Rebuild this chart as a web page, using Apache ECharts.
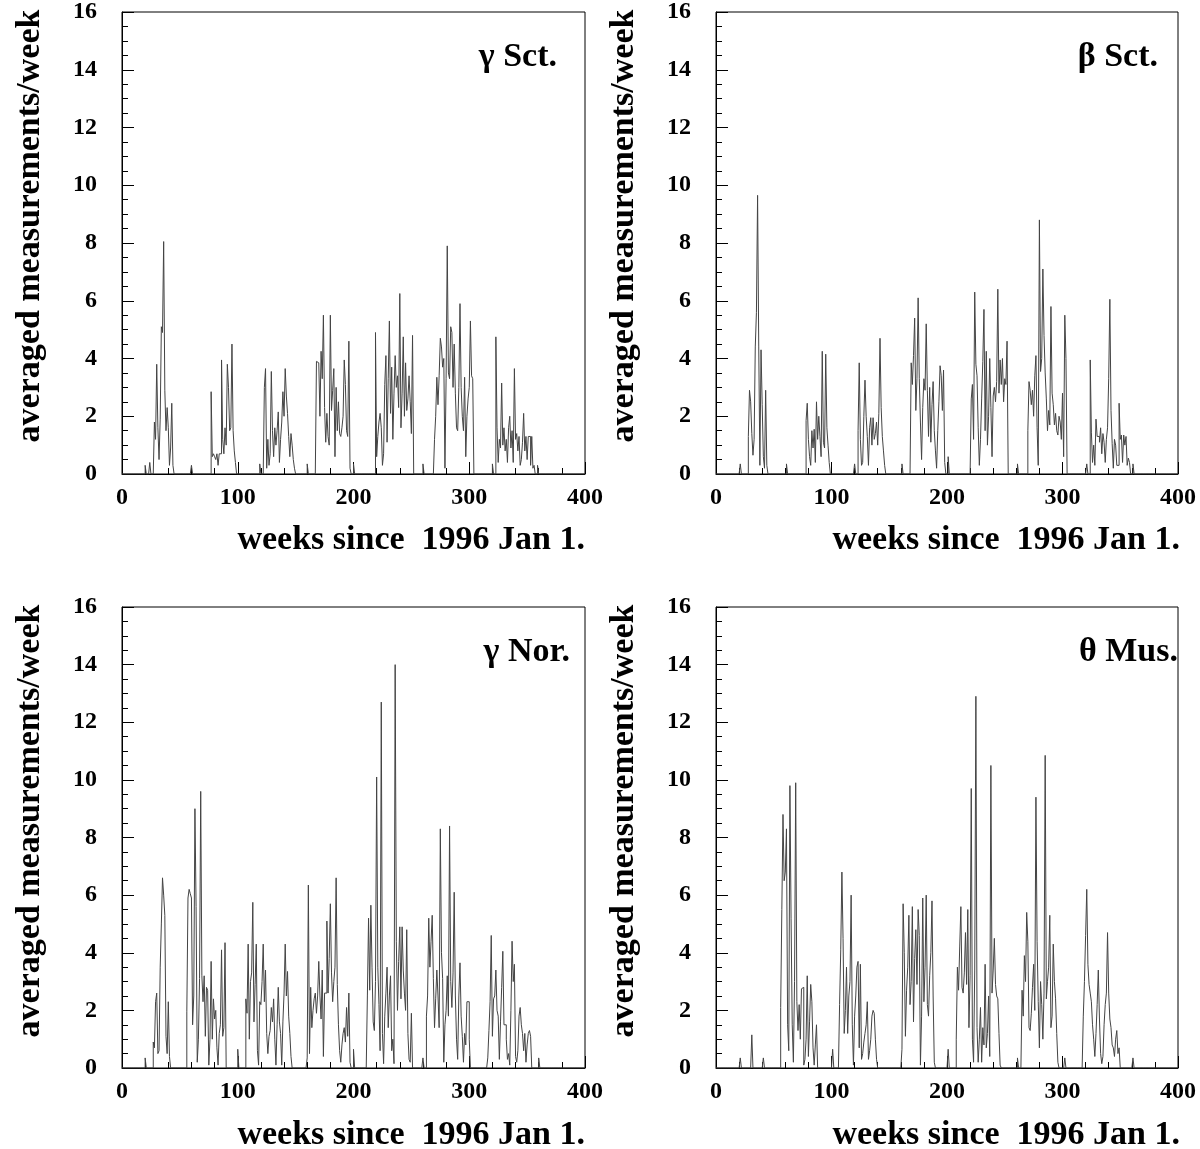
<!DOCTYPE html>
<html><head><meta charset="utf-8">
<script src="https://cdn.jsdelivr.net/npm/echarts/dist/echarts.min.js"></script>
<style>html,body{margin:0;padding:0;background:#fff}#c{width:1200px;height:1149px}</style>
</head><body><div id="c"></div>
<script>
// ---- data (weeks since 1996 Jan 1 -> averaged measurements/week); bins not listed are 0 ----
const weekRange = [0, 400];
const countRange = [0, 16];
const panelLabels = ['γ Sct.', 'β Sct.', 'γ Nor.', 'θ Mus.'];
const xTitle = 'weeks since  1996 Jan 1.';
const yTitle = 'averaged measurements/week';

const gammaSct = [[20,0.3],[24,0.4],
[28,1.8],[29,1.2],[30,3.8],[31,1.6],[32,0.5],[33,1.9],[34,5.1],[35,4.9],[36,8.05],[37,2.9],[38,1.5],[39,2.3],[40,1.6],[41,0.3],[42,0.9],[43,2.45],[44,0.3],
[60,0.3],
[77,2.85],[78,0.6],[79,0.7],[80,0.6],[81,0.5],[82,0.7],[83,0.3],[84,0.7],[85,0.7],[86,3.95],[87,1.2],[88,0.7],[89,1.6],[90,1.0],[91,3.8],[92,3.0],[93,1.5],[94,1.6],[95,4.5],[96,1.5],[97,0.8],[98,0.4],
[119,0.35],
[123,3.0],[124,3.65],[125,0.2],[126,1.2],[127,0.3],[128,0.7],[129,3.55],[130,1.5],[131,0.6],[132,1.6],[133,1.0],[134,1.5],[135,2.15],[136,0.4],[137,1.2],[138,1.8],[139,2.85],[140,2.0],[141,3.65],[142,2.7],[143,2.1],[144,1.3],[145,0.6],[146,1.4],[147,1.0],[148,0.5],[149,0.2],
[160,0.35],
[168,3.9],[169,3.85],[170,3.8],[171,2.0],[172,4.25],[173,3.3],[174,5.5],[175,2.3],[176,1.1],[177,2.1],[178,1.3],[179,1.0],[180,5.5],[181,2.2],[182,2.9],[183,3.65],[184,0.6],[185,3.0],[186,1.5],[187,2.5],[188,1.4],[189,1.3],[190,1.6],[191,2.0],[192,3.95],[193,3.1],[194,1.5],[195,1.3],[196,4.6],[197,0.2],
[200,0.35],
[219,4.9],[220,0.6],[221,1.3],[222,1.8],[223,2.1],[224,1.6],[225,0.3],[226,0.7],[227,3.1],[228,4.1],[229,1.1],[230,3.3],[231,5.3],[232,2.1],[233,3.7],[234,1.2],[235,2.8],[236,4.1],[237,3.0],[238,3.4],[239,2.3],[240,6.25],[241,1.6],[242,2.8],[243,4.75],[244,2.0],[245,3.85],[246,2.2],[247,2.6],[248,3.4],[249,2.5],[250,1.4],[251,4.8],
[260,0.35],
[270,1.2],[271,2.0],[272,3.35],[273,2.4],[274,3.4],[275,4.7],[276,4.4],[277,3.7],[278,4.0],[279,0.2],[280,3.3],[281,7.9],[282,3.5],[283,3.3],[284,5.1],[285,4.9],[286,3.0],[287,4.5],[288,2.8],[289,1.6],[290,1.5],[291,3.0],[292,5.9],[293,3.0],[294,2.0],[295,1.5],[296,3.35],[297,0.6],[298,2.0],[299,2.6],[300,3.0],[301,5.3],[302,3.4],[303,3.3],
[320,0.35],
[323,4.75],[324,1.6],[325,0.4],[326,1.2],[327,0.9],[328,3.15],[329,1.0],[330,1.6],[331,0.8],[332,1.2],[333,0.4],[334,1.6],[335,2.0],[336,0.9],[337,1.5],[338,0.4],[339,3.65],[340,1.2],[341,1.4],[342,0.8],[343,1.3],[344,0.3],[345,0.5],[346,1.1],[347,2.1],[348,0.8],[349,1.3],[350,0.5],[351,1.3],[352,1.3],[353,0.3],[354,1.3],[355,0.2],[356,0.3],[359,0.3]];

const betaSct = [[21,0.35],
[28,1.3],[29,2.9],[30,2.5],[31,1.4],[32,0.65],[33,1.2],[34,4.4],[35,5.6],[36,9.65],[37,4.4],[38,0.3],[39,4.3],[40,2.4],[41,0.6],[42,0.2],[43,2.9],[44,0.3],
[61,0.35],
[78,1.85],[79,2.45],[80,1.2],[81,0.6],[82,0.3],[83,1.5],[84,0.9],[85,1.55],[86,0.4],[87,2.5],[88,1.2],[89,2.0],[90,1.3],[91,0.6],[92,4.25],[93,1.1],[94,0.9],[95,4.15],[96,1.6],[97,1.0],[98,0.4],
[120,0.35],
[123,1.5],[124,3.85],[125,1.2],[126,0.3],[127,0.4],[128,2.0],[129,3.25],[130,2.0],[131,1.3],[132,0.3],[133,1.6],[134,1.95],[135,1.0],[136,1.95],[137,1.2],[138,1.4],[139,1.8],[140,1.0],[141,2.1],[142,4.7],[143,2.3],[144,1.3],[145,0.8],[146,0.3],
[161,0.35],
[169,3.85],[170,3.1],[171,4.1],[172,5.4],[173,2.2],[174,3.3],[175,6.1],[176,3.3],[177,1.8],[178,0.5],[179,2.3],[180,3.3],[181,2.9],[182,5.2],[183,2.9],[184,1.3],[185,3.0],[186,1.1],[187,2.4],[188,3.2],[189,1.5],[190,0.8],[191,0.2],[192,1.5],[193,2.5],[194,3.75],[195,3.4],[196,2.2],[197,3.6],[198,0.4],
[201,0.6],
[221,2.6],[222,3.1],[223,1.2],[224,6.3],[225,3.8],[226,3.4],[227,1.6],[228,0.3],[229,1.2],[230,2.6],[231,3.9],[232,5.7],[233,1.5],[234,4.25],[235,1.0],[236,2.0],[237,4.0],[238,2.3],[239,0.6],[240,2.7],[241,3.0],[242,2.5],[243,3.2],[244,6.4],[245,2.8],[246,3.95],[247,3.1],[248,4.0],[249,2.5],[250,3.3],[251,3.1],[252,4.6],
[261,0.35],
[270,1.5],[271,3.2],[272,2.9],[273,2.4],[274,2.9],[275,2.0],[276,3.4],[277,4.1],[278,1.6],[279,0.3],[280,8.8],[281,3.55],[282,4.0],[283,7.1],[284,4.8],[285,3.5],[286,2.6],[287,1.5],[288,2.2],[289,1.7],[290,5.8],[291,2.8],[292,2.4],[293,1.7],[294,2.1],[295,1.5],[296,1.35],[297,2.0],[298,1.8],[299,1.2],[300,2.8],[301,0.6],[302,5.5],[303,4.0],
[321,0.35],
[324,3.95],[325,1.45],[326,0.4],[327,1.0],[328,0.3],[329,1.9],[330,1.3],[331,1.3],[332,1.1],[333,1.6],[334,0.7],[335,1.4],[336,1.1],[337,0.4],[338,1.2],[339,1.6],[340,3.3],[341,6.05],[342,2.2],[343,1.05],[344,0.2],[345,1.2],[346,1.0],[347,0.3],[348,0.3],[349,2.45],[350,1.2],[351,1.35],[352,0.4],[353,1.35],[354,1.0],[355,1.3],[356,0.3],[357,0.55],[358,0.4],[361,0.35]];

const gammaNor = [[20,0.35],
[27,0.9],[28,0.7],[29,2.3],[30,2.6],[31,0.5],[32,0.6],[33,3.5],[34,5.0],[35,6.6],[36,6.0],[37,5.3],[38,1.1],[39,0.5],[40,2.3],[41,0.4],
[56,1.95],[57,5.9],[58,6.2],[59,6.05],[60,5.9],[61,1.5],[62,2.5],[63,9.0],[64,5.6],[65,0.2],[66,1.0],[67,3.1],[68,9.6],[69,3.2],[70,2.3],[71,3.2],[72,1.1],[73,2.8],[74,2.7],[75,0.1],[76,1.0],[77,3.7],[78,1.0],[79,2.4],[80,1.7],[81,2.0],[82,0.7],[83,0.1],[84,1.2],[85,1.5],[86,4.1],[87,1.1],[88,1.4],[89,4.35],
[100,0.65],
[107,2.4],[108,1.9],[109,4.3],[110,1.0],[111,3.0],[112,3.3],[113,5.75],[114,1.6],[115,2.9],[116,4.3],[117,0.6],[118,0.1],[119,2.3],[120,2.2],[121,3.0],[122,4.3],[123,2.3],[124,3.4],[125,1.2],[126,0.5],[127,1.1],[128,1.3],[129,2.1],[130,1.6],[131,2.4],[132,1.0],[133,0.1],[134,1.5],[135,2.8],[136,1.6],[137,1.2],[138,0.1],[139,1.6],[140,2.6],[141,4.3],[142,2.5],[143,3.35],[144,1.8],[145,1.2],[146,0.4],
[160,0.35],
[161,6.35],[162,0.5],[163,2.8],[164,1.4],[165,2.0],[166,2.4],[167,2.6],[168,1.9],[169,2.5],[170,3.7],[171,2.5],[172,1.7],[173,3.4],[174,0.4],[175,2.6],[176,2.6],[177,5.1],[178,2.6],[179,3.8],[180,5.7],[181,3.3],[182,2.3],[183,3.0],[184,3.5],[185,6.6],[186,2.9],[187,1.5],[188,0.6],[189,0.2],[190,0.8],[191,1.2],[192,1.4],[193,0.9],[194,2.1],[195,1.1],[196,2.6],[197,0.2],
[200,0.65],
[212,2.5],[213,5.2],[214,2.7],[215,5.65],[216,3.5],[217,1.6],[218,1.3],[219,3.0],[220,10.1],[221,3.5],[222,2.2],[223,0.6],[224,12.7],[225,1.2],[226,0.15],[227,1.8],[228,2.6],[229,3.5],[230,1.4],[231,2.5],[232,3.2],[233,0.6],[234,1.0],[235,0.15],[236,14.0],[237,4.4],[238,2.0],[239,3.7],[240,4.9],[241,2.4],[242,4.9],[243,3.4],[244,2.6],[245,2.0],[246,4.8],[247,1.2],[248,0.3],[249,0.2],[250,1.9],
[260,0.35],
[263,1.8],[264,2.5],[265,5.2],[266,3.5],[267,4.4],[268,5.3],[269,3.1],[270,1.4],[271,2.4],[272,3.4],[273,2.5],[274,1.4],[275,8.3],[276,4.0],[277,3.1],[278,0.2],[279,1.5],[280,2.0],[281,3.2],[282,1.8],[283,8.4],[284,3.0],[285,2.1],[286,3.3],[287,6.1],[288,2.5],[289,1.0],[290,0.3],[291,2.5],[292,3.65],[293,1.8],[294,1.1],[295,0.2],[296,1.2],[297,0.8],[298,2.3],[299,2.3],[300,1.0],
[316,0.35],[317,1.3],[318,2.3],[319,4.6],[320,1.1],[321,2.4],[322,2.5],[323,3.4],[324,2.0],[325,1.8],[326,0.3],[327,1.6],[328,2.8],[329,4.05],[330,1.5],[331,1.5],[332,1.0],[333,0.3],[334,0.5],[335,0.1],[336,2.0],[337,4.4],[338,3.0],[339,3.6],[340,0.4],[341,0.2],[342,0.6],[343,1.8],[344,2.1],[345,1.5],[346,1.2],[347,0.6],[348,1.2],[349,0.2],[350,0.8],[351,1.2],[352,1.3],[353,1.1],[360,0.35]];

const thetaMus = [[21,0.35],[31,1.15],[41,0.35],
[56,2.1],[57,5.5],[58,8.8],[59,6.5],[60,6.8],[61,8.3],[62,1.5],[63,0.6],[64,9.8],[65,5.2],[66,1.5],[67,0.2],[68,3.0],[69,9.9],[70,2.3],[71,1.3],[72,2.2],[73,1.0],[74,2.75],[75,2.8],[76,0.1],[77,0.3],[78,1.0],[79,3.2],[80,0.4],[81,1.6],[82,2.9],[83,2.3],[84,0.7],[85,0.1],[86,0.8],[87,1.5],
[101,0.65],
[107,2.2],[108,4.1],[109,6.8],[110,4.5],[111,1.2],[112,2.0],[113,3.5],[114,1.2],[115,2.5],[116,3.0],[117,6.0],[118,1.5],[119,0.1],[120,1.8],[121,2.5],[122,3.5],[123,3.7],[124,0.7],[125,3.6],[126,0.3],[127,0.5],[128,0.9],[129,1.2],[130,1.5],[131,2.3],[132,0.3],[133,0.6],[134,1.0],[135,1.8],[136,2.0],[137,1.9],[138,1.0],[139,0.3],
[161,0.65],
[162,5.7],[163,4.0],[164,1.1],[165,2.7],[166,3.5],[167,5.3],[168,2.2],[169,3.0],[170,5.6],[171,1.6],[172,3.8],[173,4.8],[174,2.9],[175,5.5],[176,4.6],[177,0.1],[178,1.8],[179,5.9],[180,2.3],[181,3.5],[182,6.0],[183,2.2],[184,1.8],[185,3.2],[186,4.0],[187,5.8],[188,2.5],[189,0.2],
[201,0.65],
[208,1.0],[209,3.5],[210,2.7],[211,4.2],[212,5.6],[213,2.8],[214,2.6],[215,3.3],[216,4.7],[217,2.9],[218,5.5],[219,1.4],[220,3.2],[221,9.7],[222,1.0],[223,0.2],[224,3.4],[225,12.9],[226,1.4],[227,0.2],[228,1.0],[229,2.1],[230,0.2],[231,1.4],[232,0.8],[233,3.6],[234,0.7],[235,1.2],[236,2.5],[237,0.4],[238,10.5],[239,2.6],[240,3.4],[241,4.5],[242,2.9],[243,2.5],[244,2.4],[245,1.2],[246,0.1],
[261,0.35],
[265,2.7],[266,1.8],[267,3.9],[268,3.0],[269,5.4],[270,4.4],[271,1.4],[272,1.3],[273,1.9],[274,2.8],[275,3.6],[276,2.0],[277,9.4],[278,4.4],[279,2.3],[280,0.7],[281,3.0],[282,2.2],[283,1.0],[284,2.6],[285,10.85],[286,2.4],[287,3.0],[288,3.5],[289,5.3],[290,1.4],[291,1.8],[292,4.3],[293,3.0],[294,2.4],[295,1.2],[296,0.2],
[302,0.35],
[318,1.8],[319,3.0],[320,4.6],[321,6.2],[322,3.6],[323,2.9],[324,2.6],[325,2.3],[326,1.5],[327,1.0],[328,0.4],[329,1.2],[330,2.2],[331,3.4],[332,1.7],[333,0.5],[334,0.15],[335,0.4],[336,1.5],[337,2.2],[338,2.6],[339,4.7],[340,2.6],[341,1.7],[342,1.4],[343,0.8],[344,0.7],[345,0.4],[346,1.0],[347,1.3],[348,0.5],[349,0.7],
[361,0.35]];

const panelData = [gammaSct, betaSct, gammaNor, thetaMus];

// ---- build histogram step series ----
function toSteps(pairs) {
  const bins = new Array(weekRange[1]).fill(0);
  pairs.forEach(([w, v]) => { bins[w] = v; });
  const pts = bins.map((v, i) => [i, v]);
  pts.push([weekRange[1], bins[bins.length - 1]]);
  return pts;
}

const FONT = 'Liberation Serif';
const grids = [
  {left: 122, top: 12, width: 463, height: 462},
  {left: 716, top: 12, width: 462, height: 462},
  {left: 122, top: 607, width: 463, height: 461},
  {left: 716, top: 607, width: 462, height: 461}
];

const option = {
  animation: false,
  backgroundColor: '#fff',
  grid: grids.map(g => Object.assign({show: true, borderColor: '#000', borderWidth: 1, backgroundColor: 'transparent'}, g)),
  xAxis: grids.map((g, i) => ({
    type: 'value', gridIndex: i, min: weekRange[0], max: weekRange[1], interval: 100,
    axisLine: {show: true, onZero: false, lineStyle: {color: '#000', width: 1}},
    axisTick: {show: true, inside: true, length: 12, lineStyle: {color: '#000'}},
    minorTick: {show: true, splitNumber: 5, length: 6, lineStyle: {color: '#000'}},
    splitLine: {show: false},
    axisLabel: {color: '#000', fontFamily: FONT, fontWeight: 'bold', fontSize: 24, margin: 12}
  })),
  yAxis: grids.map((g, i) => ({
    type: 'value', gridIndex: i, min: countRange[0], max: countRange[1], interval: 2,
    axisLine: {show: true, onZero: false, lineStyle: {color: '#000', width: 1}},
    axisTick: {show: true, inside: true, length: 12, lineStyle: {color: '#000'}},
    minorTick: {show: true, splitNumber: 4, length: 6, lineStyle: {color: '#000'}},
    splitLine: {show: false},
    axisLabel: {color: '#000', fontFamily: FONT, fontWeight: 'bold', fontSize: 24, margin: 25}
  })),
  series: panelData.map((d, i) => ({
    type: 'line', xAxisIndex: i, yAxisIndex: i, step: 'end', symbol: 'none',
    data: toSteps(d), lineStyle: {color: '#444', width: 1}, silent: true
  })),
  graphic: []
};

// titles / labels
const yTitlePos = [[30, 226], [624, 226], [30, 821], [624, 821]];
const xTitlePos = [[585, 540], [1180, 540], [585, 1135], [1180, 1135]];
const labelPos = [[557, 57], [1158, 57], [570, 652], [1178, 652]];
for (let i = 0; i < 4; i++) {
  option.graphic.push({type: 'text', x: yTitlePos[i][0], y: yTitlePos[i][1], rotation: Math.PI / 2,
    style: {text: yTitle, font: 'bold 34px "' + FONT + '"', fill: '#000', align: 'center', verticalAlign: 'middle'}});
  option.graphic.push({type: 'text', x: xTitlePos[i][0], y: xTitlePos[i][1],
    style: {text: xTitle, font: 'bold 34px "' + FONT + '"', fill: '#000', align: 'right', verticalAlign: 'middle'}});
  option.graphic.push({type: 'text', x: labelPos[i][0], y: labelPos[i][1],
    style: {text: panelLabels[i], font: 'bold 34px "' + FONT + '"', fill: '#000', align: 'right', verticalAlign: 'middle'}});
}

const chart = echarts.init(document.getElementById('c'), null, {renderer: 'canvas'});
chart.setOption(option);
</script>
</body></html>
